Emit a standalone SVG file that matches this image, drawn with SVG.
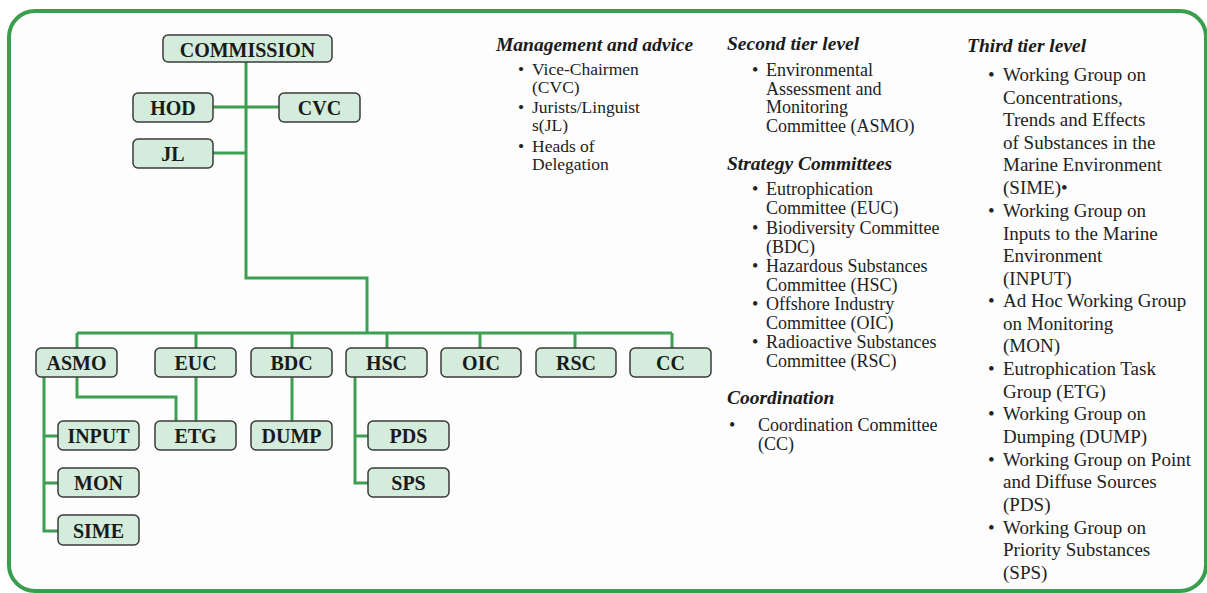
<svg xmlns="http://www.w3.org/2000/svg" width="1207" height="593" viewBox="0 0 1207 593">
<style>
.frame{fill:#fdfdfd;stroke:#3a9e4f;stroke-width:4}
.ln{fill:none;stroke:#3c9f52;stroke-width:3}
.nd rect{fill:#d4ecdb;stroke:#3a3a3a;stroke-width:1.5}
.nd text{font-family:"Liberation Serif",serif;font-weight:bold;font-size:20px;fill:#1a1a1a;text-anchor:middle}
.hd{font-family:"Liberation Serif",serif;font-weight:bold;font-style:italic;font-size:19.5px;fill:#1a1a1a}
.c1{font-family:"Liberation Serif",serif;font-size:17.5px;fill:#222}
.c2{font-family:"Liberation Serif",serif;font-size:18px;fill:#222}
.c3{font-family:"Liberation Serif",serif;font-size:19px;fill:#222}
</style>
<rect class="frame" x="9" y="11" width="1197" height="580" rx="26"/>
<g id="connectors">
<path class="ln" d="M246,62 V278 H367 V333"/>
<path class="ln" d="M213,107 H279"/>
<path class="ln" d="M213,153 H246"/>
<path class="ln" d="M77,333 H672"/>
<path class="ln" d="M77,333 V348 M196,333 V348 M292,333 V348 M387,333 V348 M480,333 V348 M575,333 V348 M672,333 V348"/>
<path class="ln" d="M44,377 V531 H58 M44,436 H58 M44,483 H58"/>
<path class="ln" d="M77,377 V397 H176 V421"/>
<path class="ln" d="M196,377 V421"/>
<path class="ln" d="M292,377 V421"/>
<path class="ln" d="M355,377 V483 H368 M355,436 H368"/>
</g>
<g id="commission" class="nd"><rect x="163" y="35" width="169" height="27" rx="5"/><text x="247.5" y="57">COMMISSION</text></g>
<g id="hod" class="nd"><rect x="133" y="93" width="80" height="29" rx="5"/><text x="173" y="115">HOD</text></g>
<g id="cvc" class="nd"><rect x="279" y="93" width="81" height="29" rx="5"/><text x="319.5" y="115">CVC</text></g>
<g id="jl" class="nd"><rect x="133" y="139" width="80" height="29" rx="5"/><text x="173" y="161">JL</text></g>
<g id="asmo" class="nd"><rect x="36" y="348" width="81" height="29" rx="5"/><text x="76.5" y="370">ASMO</text></g>
<g id="euc" class="nd"><rect x="155" y="348" width="81" height="29" rx="5"/><text x="195.5" y="370">EUC</text></g>
<g id="bdc" class="nd"><rect x="251" y="348" width="81" height="29" rx="5"/><text x="291.5" y="370">BDC</text></g>
<g id="hsc" class="nd"><rect x="346" y="348" width="81" height="29" rx="5"/><text x="386.5" y="370">HSC</text></g>
<g id="oic" class="nd"><rect x="441" y="348" width="80" height="29" rx="5"/><text x="481" y="370">OIC</text></g>
<g id="rsc" class="nd"><rect x="536" y="348" width="80" height="29" rx="5"/><text x="576" y="370">RSC</text></g>
<g id="cc" class="nd"><rect x="630" y="348" width="81" height="29" rx="5"/><text x="670.5" y="370">CC</text></g>
<g id="input" class="nd"><rect x="58" y="421" width="81" height="29" rx="5"/><text x="98.5" y="443">INPUT</text></g>
<g id="etg" class="nd"><rect x="155" y="421" width="81" height="29" rx="5"/><text x="195.5" y="443">ETG</text></g>
<g id="dump" class="nd"><rect x="251" y="421" width="81" height="29" rx="5"/><text x="291.5" y="443">DUMP</text></g>
<g id="pds" class="nd"><rect x="368" y="421" width="81" height="29" rx="5"/><text x="408.5" y="443">PDS</text></g>
<g id="mon" class="nd"><rect x="58" y="468" width="81" height="29" rx="5"/><text x="98.5" y="490">MON</text></g>
<g id="sps" class="nd"><rect x="368" y="468" width="81" height="29" rx="5"/><text x="408.5" y="490">SPS</text></g>
<g id="sime" class="nd"><rect x="58" y="515" width="81" height="30" rx="5"/><text x="98.5" y="538">SIME</text></g>
<g id="legend-management">
<text class="hd" x="496" y="51">Management and advice</text>
<text class="c1"><tspan x="518" y="75">•</tspan><tspan x="532" y="75">Vice-Chairmen</tspan><tspan x="532" y="93">(CVC)</tspan><tspan x="518" y="113">•</tspan><tspan x="532" y="113">Jurists/Linguist</tspan><tspan x="532" y="131">s(JL)</tspan><tspan x="518" y="152">•</tspan><tspan x="532" y="152">Heads of</tspan><tspan x="532" y="170">Delegation</tspan></text>
</g>
<g id="legend-second">
<text class="hd" x="727" y="50">Second tier level</text>
<text class="c2"><tspan x="752" y="76">•</tspan><tspan x="766" y="76">Environmental</tspan><tspan x="766" y="94.5">Assessment and</tspan><tspan x="766" y="113">Monitoring</tspan><tspan x="766" y="131.5">Committee (ASMO)</tspan></text>
<text class="hd" x="727" y="170">Strategy Committees</text>
<text class="c2"><tspan x="752" y="195">•</tspan><tspan x="766" y="195">Eutrophication</tspan><tspan x="766" y="214">Committee (EUC)</tspan><tspan x="752" y="234">•</tspan><tspan x="766" y="234">Biodiversity Committee</tspan><tspan x="766" y="252.5">(BDC)</tspan><tspan x="752" y="272">•</tspan><tspan x="766" y="272">Hazardous Substances</tspan><tspan x="766" y="290.5">Committee (HSC)</tspan><tspan x="752" y="310">•</tspan><tspan x="766" y="310">Offshore Industry</tspan><tspan x="766" y="328.5">Committee (OIC)</tspan><tspan x="752" y="348">•</tspan><tspan x="766" y="348">Radioactive Substances</tspan><tspan x="766" y="366.5">Committee (RSC)</tspan></text>
<text class="hd" x="727" y="404">Coordination</text>
<text class="c2"><tspan x="729" y="431">•</tspan><tspan x="758" y="431">Coordination Committee</tspan><tspan x="758" y="450">(CC)</tspan></text>
</g>
<g id="legend-third">
<text class="hd" x="967" y="52">Third tier level</text>
<text class="c3"><tspan x="988" y="81">•</tspan><tspan x="1003" y="81">Working Group on</tspan><tspan x="1003" y="103.5">Concentrations,</tspan><tspan x="1003" y="126">Trends and Effects</tspan><tspan x="1003" y="148.5">of Substances in the</tspan><tspan x="1003" y="171">Marine Environment</tspan><tspan x="1003" y="193.5">(SIME)•</tspan><tspan x="988" y="217">•</tspan><tspan x="1003" y="217">Working Group on</tspan><tspan x="1003" y="240">Inputs to the Marine</tspan><tspan x="1003" y="262">Environment</tspan><tspan x="1003" y="284.5">(INPUT)</tspan><tspan x="988" y="307">•</tspan><tspan x="1003" y="307">Ad Hoc Working Group</tspan><tspan x="1003" y="330">on Monitoring</tspan><tspan x="1003" y="352">(MON)</tspan><tspan x="988" y="375">•</tspan><tspan x="1003" y="375">Eutrophication Task</tspan><tspan x="1003" y="397.5">Group (ETG)</tspan><tspan x="988" y="420">•</tspan><tspan x="1003" y="420">Working Group on</tspan><tspan x="1003" y="443">Dumping (DUMP)</tspan><tspan x="988" y="466">•</tspan><tspan x="1003" y="466">Working Group on Point</tspan><tspan x="1003" y="488">and Diffuse Sources</tspan><tspan x="1003" y="511">(PDS)</tspan><tspan x="988" y="534">•</tspan><tspan x="1003" y="534">Working Group on</tspan><tspan x="1003" y="556">Priority Substances</tspan><tspan x="1003" y="579">(SPS)</tspan></text>
</g>
</svg>
